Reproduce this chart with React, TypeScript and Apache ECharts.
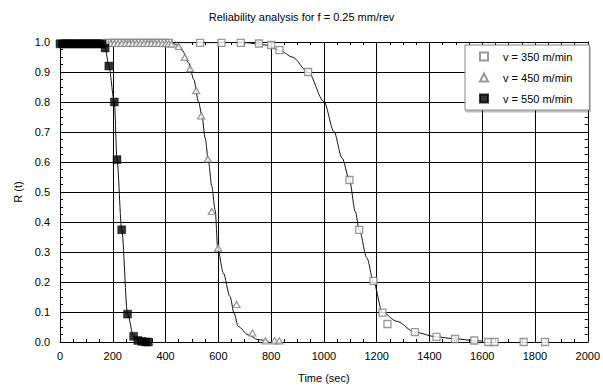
import React, { useEffect, useRef } from "react";
import * as echarts from "echarts";

const FONT = 'Arial, "Liberation Sans", sans-serif';

// v = 350 m/min : measured points
const t350 = [185, 197, 209, 221, 233, 245, 257, 269, 281, 293, 305, 317, 329, 341, 353, 365, 377, 389, 401, 413, 531, 612, 685, 754, 800, 832, 940, 1097, 1134, 1188, 1222, 1241, 1345, 1427, 1497, 1570, 1623, 1647, 1757, 1838];
const r350 = [0.997, 0.997, 0.997, 0.997, 0.997, 0.997, 0.997, 0.997, 0.997, 0.997, 0.997, 0.997, 0.997, 0.997, 0.997, 0.997, 0.997, 0.997, 0.997, 0.997, 0.997, 0.997, 0.997, 0.995, 0.99, 0.973, 0.9, 0.54, 0.374, 0.204, 0.098, 0.06, 0.033, 0.017, 0.01, 0.005, 0.0, 0.0, 0.0, 0.0];
// v = 350 m/min : fitted curve
const tFit350 = [190, 700, 780, 834, 880, 940, 1000, 1038, 1069, 1097, 1119, 1134, 1163, 1188, 1222, 1276, 1344, 1427, 1494, 1570, 1600];
const rFit350 = [0.998, 0.998, 0.99, 0.972, 0.95, 0.9, 0.802, 0.702, 0.613, 0.54, 0.435, 0.374, 0.28, 0.2, 0.099, 0.069, 0.033, 0.017, 0.011, 0.005, 0.003];

// v = 450 m/min : measured points
const t450 = [192, 206, 220, 234, 248, 262, 276, 290, 304, 318, 332, 346, 360, 374, 388, 402, 412, 423, 450, 473, 493, 516, 535, 560, 575, 599, 669, 729, 779, 813, 831];
const r450 = [0.995, 0.995, 0.995, 0.995, 0.995, 0.995, 0.995, 0.995, 0.995, 0.995, 0.995, 0.995, 0.995, 0.995, 0.995, 0.995, 0.994, 0.993, 0.985, 0.949, 0.911, 0.838, 0.754, 0.61, 0.435, 0.313, 0.125, 0.03, 0.004, 0.004, 0.004];
// v = 450 m/min : fitted curve
const tFit450 = [200, 430, 444, 463, 488, 507, 525, 538, 550, 563, 575, 588, 598, 619, 644, 660, 675, 713, 750, 790];
const rFit450 = [0.995, 0.995, 0.99, 0.972, 0.93, 0.875, 0.8, 0.754, 0.68, 0.6, 0.52, 0.44, 0.31, 0.23, 0.152, 0.095, 0.052, 0.024, 0.008, 0.002];

// v = 550 m/min : measured points
const t550 = [0, 10, 20, 30, 40, 50, 60, 70, 80, 90, 100, 110, 120, 130, 140, 150, 160, 171, 185, 206, 216, 234, 256, 279, 295, 310, 325, 335];
const r550 = [0.994, 0.994, 0.994, 0.994, 0.994, 0.994, 0.994, 0.994, 0.994, 0.994, 0.994, 0.994, 0.994, 0.994, 0.994, 0.994, 0.994, 0.98, 0.92, 0.8, 0.608, 0.374, 0.093, 0.019, 0.005, 0.002, 0.0, 0.0];
// v = 550 m/min : fitted curve
const tFit550 = [0, 160, 171, 185, 206, 216, 234, 256, 279, 300, 335];
const rFit550 = [0.994, 0.994, 0.98, 0.92, 0.8, 0.608, 0.374, 0.093, 0.019, 0.004, 0.0];

const names = ["v = 350 m/min", "v = 450 m/min", "v = 550 m/min"];

const zip = (a: number[], b: number[]) => a.map((v, i) => [v, b[i]]);

export default function App() {
  const ref = useRef<HTMLDivElement>(null);
  useEffect(() => {
    if (!ref.current) return;
    const chart = echarts.init(ref.current, null, { renderer: "svg" });
    const axisLine = { show: true, onZero: false, lineStyle: { color: "#000", width: 1 } };
    const axisTick = { show: true, inside: true, length: 5, lineStyle: { color: "#000" } };
    const minorTick = { show: true, splitNumber: 4, length: 3, lineStyle: { color: "#000" } };
    const fitLine = (name: string, t: number[], r: number[]) => ({
      type: "line",
      name: name + " fit",
      data: zip(t, r),
      symbol: "none",
      showSymbol: false,
      smooth: 0.3,
      smoothMonotone: "x",
      lineStyle: { color: "#111", width: 1 },
      silent: true,
      z: 2,
    });
    chart.setOption({
      animation: false,
      backgroundColor: "#fff",
      title: {
        text: "Reliability analysis for f = 0.25 mm/rev",
        left: "center",
        top: 6,
        textStyle: { fontSize: 11, fontWeight: "normal", color: "#000", fontFamily: FONT },
      },
      grid: { left: 60, top: 42, width: 533, height: 300, containLabel: false },
      legend: {
        data: names,
        orient: "vertical",
        left: 465,
        top: 45,
        padding: [6, 17, 6, 14],
        itemGap: 10,
        itemWidth: 8,
        itemHeight: 8,
        backgroundColor: "#fff",
        borderColor: "#888",
        borderWidth: 1,
        shadowColor: "rgba(0,0,0,0.25)",
        shadowOffsetX: 1,
        shadowOffsetY: 2,
        shadowBlur: 0,
        textStyle: { fontSize: 11, color: "#000", fontFamily: FONT, padding: [0, 0, 0, 10] },
      },
      xAxis: [
        {
          type: "value",
          min: 0,
          max: 2000,
          interval: 200,
          position: "bottom",
          axisLine,
          axisTick,
          minorTick,
          splitLine: { show: true, lineStyle: { color: "#000", width: 1 } },
          axisLabel: { color: "#000", fontSize: 11, margin: 8, fontFamily: FONT, formatter: (v: number) => String(v) },
          name: "Time (sec)",
          nameLocation: "middle",
          nameGap: 30,
          nameTextStyle: { color: "#000", fontSize: 11, fontFamily: FONT },
        },
        {
          type: "value",
          min: 0,
          max: 2000,
          interval: 200,
          position: "top",
          axisLine,
          axisTick,
          minorTick,
          splitLine: { show: false },
          axisLabel: { show: false },
        },
      ],
      yAxis: [
        {
          type: "value",
          min: 0,
          max: 1,
          interval: 0.1,
          position: "left",
          axisLine,
          axisTick,
          minorTick,
          splitLine: { show: true, lineStyle: { color: "#000", width: 1 } },
          axisLabel: {
            color: "#000",
            fontSize: 11,
            margin: 10,
            fontFamily: FONT,
            formatter: (v: number) => v.toFixed(1),
          },
          name: "R (t)",
          nameLocation: "middle",
          nameGap: 37,
          nameRotate: 90,
          nameTextStyle: { color: "#000", fontSize: 11, fontFamily: FONT },
        },
        {
          type: "value",
          min: 0,
          max: 1,
          interval: 0.1,
          position: "right",
          axisLine,
          axisTick,
          minorTick,
          splitLine: { show: false },
          axisLabel: { show: false },
        },
      ],
      series: [
        fitLine(names[0], tFit350, rFit350),
        fitLine(names[1], tFit450, rFit450),
        fitLine(names[2], tFit550, rFit550),
        {
          type: "scatter",
          name: names[0],
          data: zip(t350, r350),
          symbol: "rect",
          symbolSize: 7,
          itemStyle: { color: "#fff", borderColor: "#808080", borderWidth: 1.3 },
          z: 3,
        },
        {
          type: "scatter",
          name: names[1],
          data: zip(t450, r450),
          symbol: "triangle",
          symbolSize: [7, 6],
          itemStyle: { color: "#fff", borderColor: "#808080", borderWidth: 1.3 },
          z: 3,
        },
        {
          type: "scatter",
          name: names[2],
          data: zip(t550, r550),
          symbol: "rect",
          symbolSize: 8,
          itemStyle: { color: "#000", borderColor: "#000", borderWidth: 0.5 },
          z: 4,
        },
      ],
    });
    return () => chart.dispose();
  }, []);
  return (
    <div
      ref={ref}
      style={{ position: "fixed", left: 0, top: 0, width: 603, height: 388, background: "#fff" }}
    />
  );
}
